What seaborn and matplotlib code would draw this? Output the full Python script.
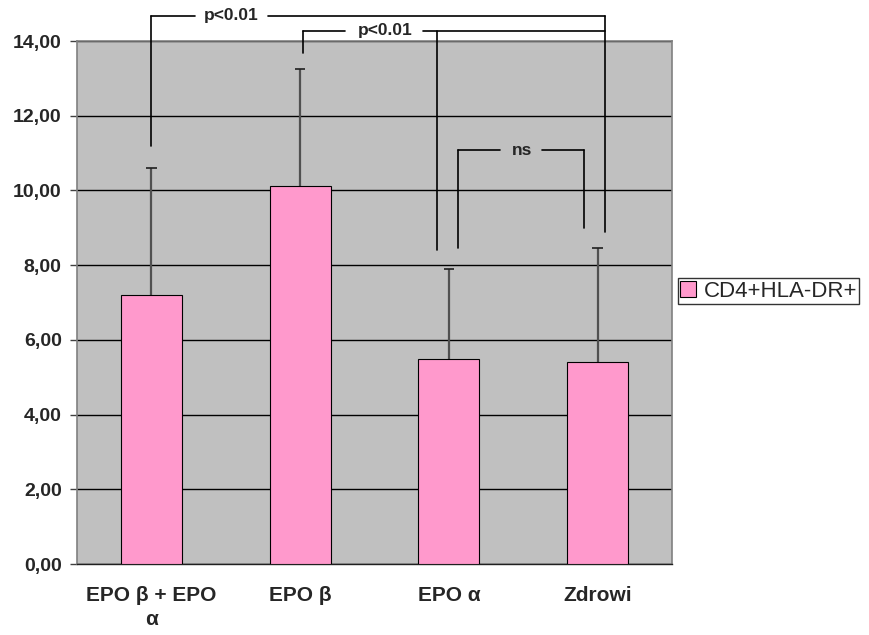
import matplotlib
matplotlib.use("Agg")
import matplotlib.pyplot as plt
import seaborn as sns
import pandas as pd
import numpy as np
from matplotlib.patches import Patch

# ---- data ----
categories = ["EPO β + EPO\nα", "EPO β", "EPO α", "Zdrowi"]
means = [7.2, 10.12, 5.5, 5.4]
sds = [3.4, 3.13, 2.4, 3.06]
series_name = "CD4+HLA-DR+"
yticks = [0, 2, 4, 6, 8, 10, 12, 14]
ytick_labels = ["0,00", "2,00", "4,00", "6,00", "8,00", "10,00", "12,00", "14,00"]

# significance brackets: (left x, left drop y, right x, right drop y, top y, label, label x, gap left, gap right)
brackets = [
    (0.0, 11.19, 3.05, 8.89, 14.67, "p<0.01", 0.535, 0.293, 0.784),
    (1.02, 13.68, 3.05, None, 14.27, "p<0.01", 1.571, 1.302, 1.826),
    (2.061, 8.46, 2.908, 8.99, 11.08, "ns", 2.492, 2.344, 2.626),
]
extra_drop = (1.92, 14.27, 8.40)  # extra vertical from bracket 2 line

sns.set_style("white")
plt.rcParams['font.family'] = ['Liberation Sans', 'DejaVu Sans']

df = pd.DataFrame({"group": categories, "value": means})

fig = plt.figure(figsize=(8.69, 6.35), dpi=100)
ax = fig.add_axes([0.0886, 0.1118, 0.6847, 0.8236])
ax.set_facecolor("#C0C0C0")

sns.barplot(data=df, x="group", y="value", ax=ax, color="#FF99CC",
            width=0.41, edgecolor="black", linewidth=0.8, saturation=1,
            errorbar=None, zorder=3)

x = np.arange(len(categories))
tops = np.array(means) + np.array(sds)
ax.vlines(x, means, tops, color="#505050", linewidth=1.6, zorder=2)
ax.hlines(tops, x - 0.035, x + 0.035, color="#202020", linewidth=1.2, zorder=2)

ax.set_xlim(-0.5, 3.5)
ax.set_ylim(0, 14)
ax.set_yticks(yticks)
ax.set_yticklabels(ytick_labels, fontsize=14, fontweight="bold")
ax.yaxis.grid(True, color="black", linewidth=1.0, zorder=0)
ax.set_axisbelow(True)
ax.set_xlabel("")
ax.set_ylabel("")
ax.set_xticks(x)
ax.set_xticklabels(categories, fontsize=15, fontweight="bold", linespacing=1.35)
ax.tick_params(axis="x", which="major", length=0, pad=16)
ax.set_xticks([-0.5, 0.5, 1.5, 2.5, 3.5], minor=True)
ax.tick_params(axis="x", which="minor", length=5, color="#606060", width=1)
ax.tick_params(axis="y", length=5, color="#404040", width=1, pad=6, left=True)

for side in ["top", "right", "left"]:
    ax.spines[side].set_color("#808080")
    ax.spines[side].set_linewidth(1.2)
    ax.spines[side].set_visible(True)
ax.spines["bottom"].set_color("#202020")
ax.spines["bottom"].set_linewidth(1.0)

lw = 1.2
for (lx, ly, rx, ry, ty, label, tx, gl, gr) in brackets:
    ax.plot([lx, lx], [ly, ty], color="black", lw=lw, clip_on=False, zorder=5)
    if ry is not None:
        ax.plot([rx, rx], [ry, ty], color="black", lw=lw, clip_on=False, zorder=5)
    ax.plot([lx, gl], [ty, ty], color="black", lw=lw, clip_on=False, zorder=5)
    ax.plot([gr, rx], [ty, ty], color="black", lw=lw, clip_on=False, zorder=5)
    ax.text(tx, ty, label, ha="center", va="center", fontsize=12.5,
            fontweight="bold", zorder=6)
ax.plot([extra_drop[0], extra_drop[0]], [extra_drop[2], extra_drop[1]],
        color="black", lw=lw, clip_on=False, zorder=5)

handle = Patch(facecolor="#FF99CC", edgecolor="black", linewidth=0.8)
leg = fig.legend(handles=[handle], labels=[series_name], loc="center left",
                 bbox_to_anchor=(0.780, 0.5417), frameon=True, fancybox=False,
                 edgecolor="black", fontsize=16, handlelength=0.7,
                 handleheight=0.7, handletextpad=0.35, borderpad=0.1,
                 borderaxespad=0)
leg.get_frame().set_linewidth(1.0)

fig.savefig("out.png", dpi=100)
